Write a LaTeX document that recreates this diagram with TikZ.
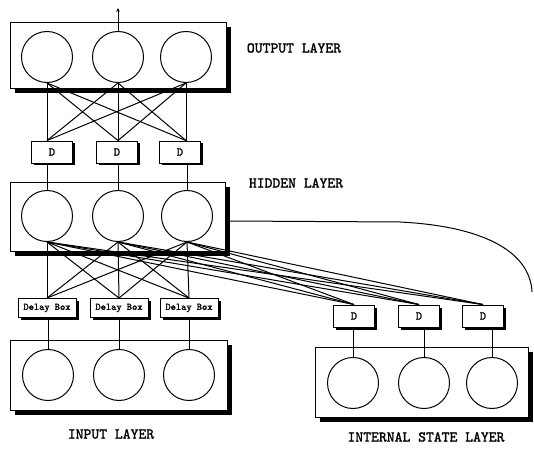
\documentclass[tikz,border=0pt]{standalone}
\usepackage{fontspec}
\newfontfamily\labfont{lmmono10-regular.otf}[FakeBold=1.6]
\usetikzlibrary{arrows.meta}
\begin{document}
\begin{tikzpicture}[x=1bp,y=-1bp,
  layerbox/.style={draw, fill=white, line width=0.9bp, inner sep=0,
    preaction={fill=black, transform canvas={xshift=5bp, yshift=-5bp}}},
  neuron/.style={draw, circle, fill=white, line width=1bp, minimum size=51bp, inner sep=0},
  dbox/.style={draw, fill=white, line width=0.9bp, minimum width=41bp, minimum height=22bp, inner sep=0,
    font=\labfont\fontsize{12}{12}\selectfont,
    preaction={fill=black, transform canvas={xshift=2.5bp, yshift=-2.5bp}}},
  delaybox/.style={dbox, minimum width=58bp, minimum height=19bp, font=\labfont\fontsize{10}{10}\selectfont},
  layerlabel/.style={font=\labfont\fontsize{15}{15}\selectfont, inner sep=0},
  wire/.style={line width=1bp}
]
\useasboundingbox (0,0) rectangle (534,449);

% ---- layer boxes
\node[layerbox, minimum width=216bp, minimum height=66bp] (obox) at (118,55) {};
\node[layerbox, minimum width=215bp, minimum height=69bp] (hbox) at (117.5,216.5) {};
\node[layerbox, minimum width=217bp, minimum height=70bp] (ibox) at (118.5,375) {};
\node[layerbox, minimum width=213bp, minimum height=70bp] (sbox) at (421.5,382) {};

% ---- neurons
\node[neuron] (o1) at (47,57) {};
\node[neuron] (o2) at (118,57) {};
\node[neuron] (o3) at (186,57) {};
\node[neuron] (h1) at (47,216) {};
\node[neuron] (h2) at (118,216) {};
\node[neuron] (h3) at (187,216) {};
\node[neuron] (i1) at (48,375) {};
\node[neuron] (i2) at (119,375) {};
\node[neuron] (i3) at (189,375) {};
\node[neuron] (s1) at (353,383) {};
\node[neuron] (s2) at (424,383) {};
\node[neuron] (s3) at (492,383) {};

% ---- delay boxes
\node[dbox] (d1) at (52,152) {D};
\node[dbox] (d2) at (117,152) {D};
\node[dbox] (d3) at (180,152) {D};
\node[delaybox] (db1) at (47,308) {Delay Box};
\node[delaybox] (db2) at (119,308) {Delay Box};
\node[delaybox] (db3) at (189,308) {Delay Box};
\node[dbox] (sd1) at (354,316) {D};
\node[dbox] (sd2) at (419,316) {D};
\node[dbox] (sd3) at (483,316) {D};

% ---- labels
\node[layerlabel] (lo) at (294,48) {OUTPUT LAYER};
\node[layerlabel] (lh) at (296,183) {HIDDEN LAYER};
\node[layerlabel] (li) at (111,434) {INPUT LAYER};
\node[layerlabel] (ls) at (426,437) {INTERNAL STATE LAYER};

% ---- connectors
\coordinate (top) at (118,8);
\draw[wire, -{Stealth[length=4bp,width=3.5bp]}] (o2.north) -- (top);

\foreach \i in {1,2,3}{
  \foreach \j in {1,2,3}{
    \draw[wire] (d\i.north -| o\i) -- (o\j.south);
    \draw[wire] (db\i.north) -- (h\j.south);
    \draw[wire] (h\i.south) -- (sd\j.north);
  }
  \draw[wire] (d\i.south -| h\i.north) -- (h\i.north);
  \draw[wire] (db\i.south -| i\i.north) -- (i\i.north);
  \draw[wire] (sd\i.south -| s\i.north) -- (s\i.north);
}

% ---- recurrent curve
\coordinate (cs) at (230,221);
\coordinate (ce) at (532,292);
\draw[wire] (cs) -- (400,222) .. controls (480,226) and (530,250) .. (ce);
\end{tikzpicture}
\end{document}
